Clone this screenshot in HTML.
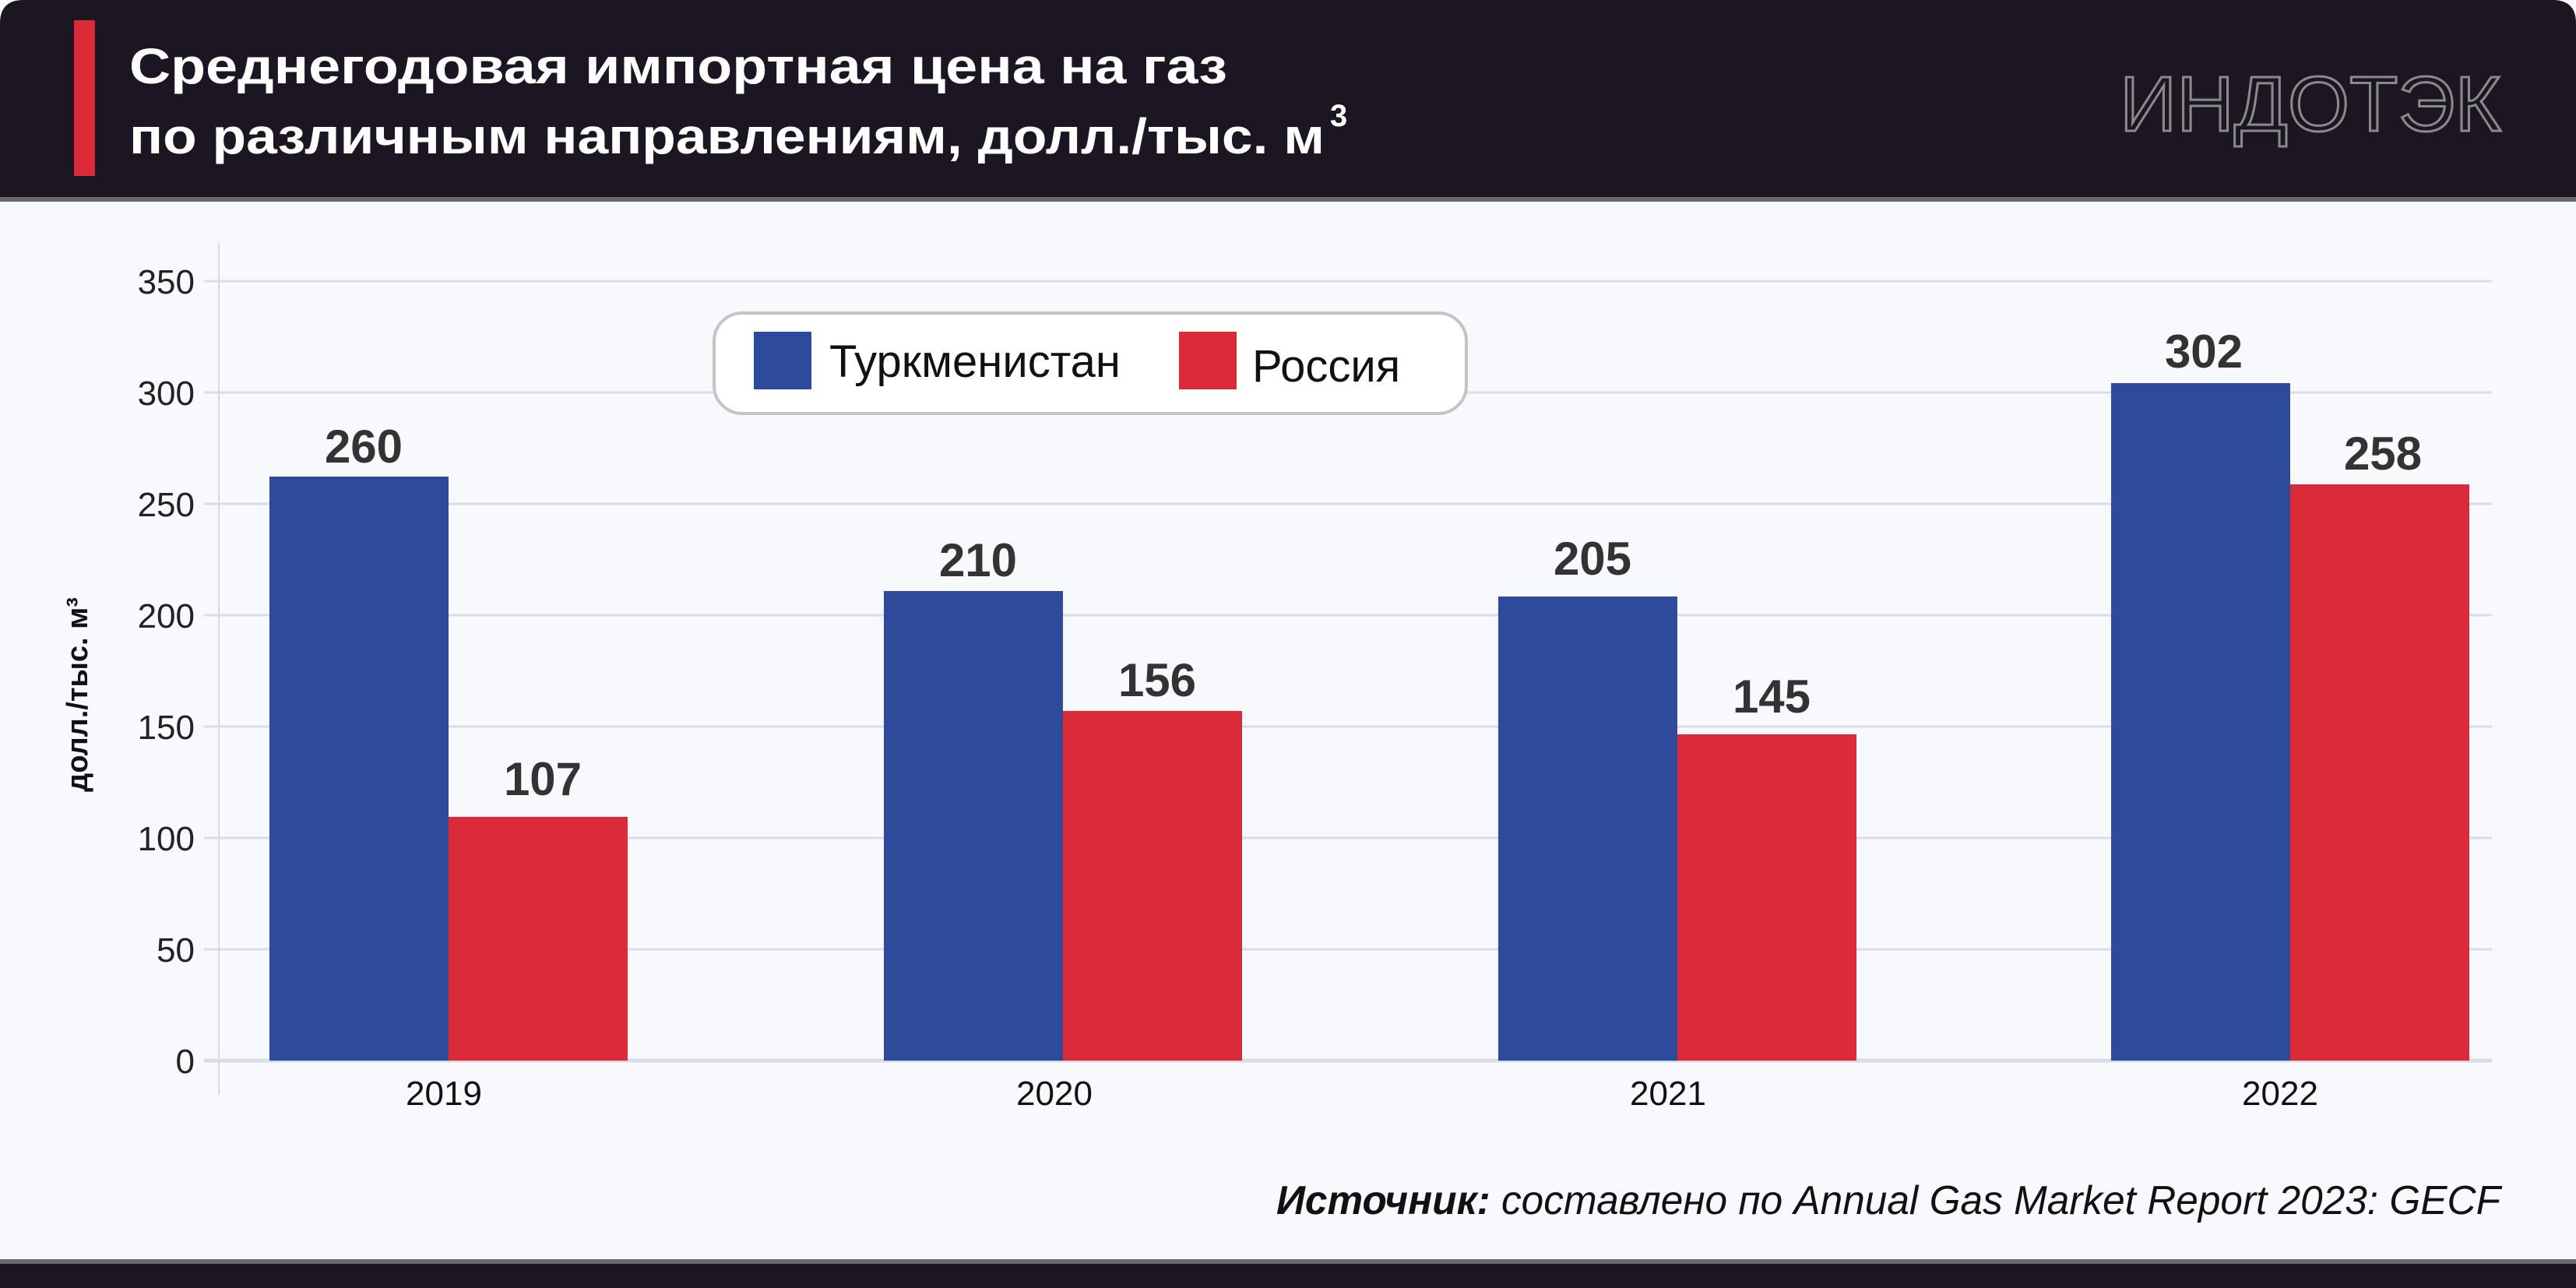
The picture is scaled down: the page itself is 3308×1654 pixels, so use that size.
<!DOCTYPE html>
<html><head><meta charset="utf-8"><style>
html,body{margin:0;padding:0}
body{width:3308px;height:1654px;background:#f8f9fc;position:relative;overflow:hidden;font-family:"Liberation Sans",sans-serif}
</style></head><body>
<svg width="3308" height="1654" viewBox="0 0 3308 1654" xmlns="http://www.w3.org/2000/svg" style="position:absolute;left:0;top:0">
<rect x="0" y="0" width="3308" height="1654" fill="#f8f9fc"/>
<path d="M0 254 V30 Q0 0 30 0 H3278 Q3308 0 3308 30 V254 Z" fill="#1b1622"/>
<rect x="0" y="253" width="3308" height="6" fill="#6a6a6a"/>
<rect x="95" y="26" width="27" height="200" fill="#dc2b38"/>
<g fill="#fff" font-weight="bold" font-size="64">
<text x="166" y="107" textLength="1410" lengthAdjust="spacingAndGlyphs">Среднегодовая импортная цена на газ</text>
<text x="166" y="197" textLength="1535" lengthAdjust="spacingAndGlyphs">по различным направлениям, долл./тыс. м</text>
<text x="1708" y="162" font-size="40">3</text>
</g>
<text x="2722" y="168" font-size="100" fill="none" stroke="#8a8a8a" stroke-width="3" textLength="490" lengthAdjust="spacingAndGlyphs">ИНДОТЭК</text>
<g stroke="#dadbe9" stroke-width="3">
<line x1="262" x2="3200" y1="361" y2="361"/>
<line x1="262" x2="3200" y1="504" y2="504"/>
<line x1="262" x2="3200" y1="647" y2="647"/>
<line x1="262" x2="3200" y1="790" y2="790"/>
<line x1="262" x2="3200" y1="933" y2="933"/>
<line x1="262" x2="3200" y1="1076" y2="1076"/>
<line x1="262" x2="3200" y1="1219" y2="1219"/>
<line x1="262" x2="3200" y1="1362" y2="1362" stroke-width="5"/>
</g>
<line x1="281" x2="281" y1="312" y2="1406" stroke="#d5d6e6" stroke-width="2"/>
<g font-size="44" fill="#222" text-anchor="end">
<text x="250" y="377">350</text><text x="250" y="520">300</text><text x="250" y="663">250</text>
<text x="250" y="806">200</text><text x="250" y="949">150</text><text x="250" y="1092">100</text>
<text x="250" y="1235">50</text><text x="250" y="1378">0</text>
</g>
<text transform="translate(112,892) rotate(-90)" text-anchor="middle" font-size="38" font-weight="bold" fill="#111">долл./тыс. м³</text>
<g fill="#2e4b9b">
<rect x="346" y="612" width="230" height="750"/>
<rect x="1135" y="759" width="230" height="603"/>
<rect x="1924" y="766" width="230" height="596"/>
<rect x="2711" y="492" width="230" height="870"/>
</g>
<g fill="#dc2b38">
<rect x="576" y="1049" width="230" height="313"/>
<rect x="1365" y="913" width="230" height="449"/>
<rect x="2154" y="943" width="230" height="419"/>
<rect x="2941" y="622" width="230" height="740"/>
</g>
<g font-size="60" font-weight="bold" fill="#333" text-anchor="middle">
<text x="467" y="594">260</text><text x="697" y="1021">107</text>
<text x="1256" y="740">210</text><text x="1486" y="894">156</text>
<text x="2045" y="738">205</text><text x="2275" y="915">145</text>
<text x="2830" y="472">302</text><text x="3060" y="603">258</text>
</g>
<g font-size="44" fill="#111" text-anchor="middle">
<text x="570" y="1419">2019</text><text x="1354" y="1419">2020</text>
<text x="2142" y="1419">2021</text><text x="2928" y="1419">2022</text>
</g>
<rect x="917" y="402" width="966" height="129" rx="36" fill="#fff" stroke="#c4c4c4" stroke-width="4"/>
<rect x="968" y="426" width="74" height="74" fill="#2e4b9b"/>
<text x="1065" y="484" font-size="58" fill="#111">Туркменистан</text>
<rect x="1514" y="426" width="74" height="74" fill="#dc2b38"/>
<text x="1608" y="490" font-size="58" fill="#111">Россия</text>
<text x="3211" y="1559" text-anchor="end" font-size="52" font-style="italic" fill="#111" textLength="1572" lengthAdjust="spacingAndGlyphs"><tspan font-weight="bold">Источник:</tspan> составлено по Annual Gas Market Report 2023: GECF</text>
<rect x="0" y="1617" width="3308" height="6" fill="#6a6a6a"/>
<path d="M0 1623 H3308 V1654 H0 Z" fill="#1b1622"/>
</svg>
</body></html>
